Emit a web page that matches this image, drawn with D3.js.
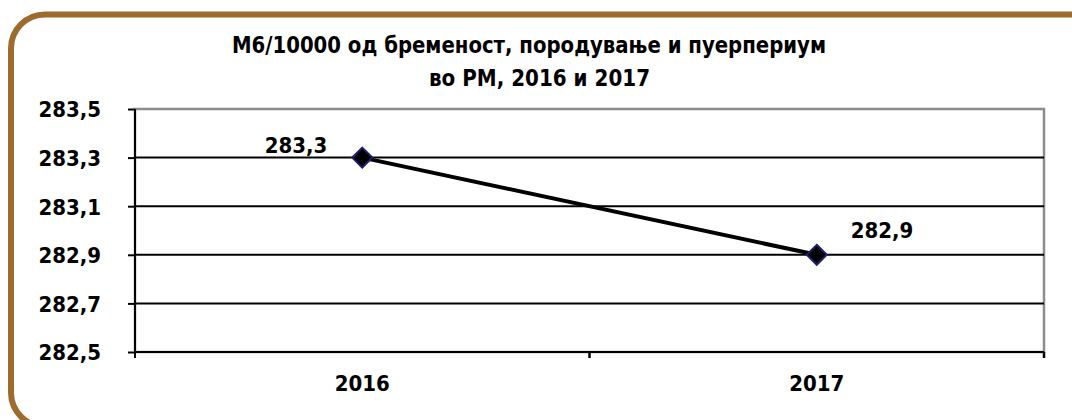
<!DOCTYPE html>
<html>
 <head>
  <meta charset="UTF-8">
  <title>M6/10000</title>
  <style>
    body { margin: 0; background: #fff; }
    text { font-family: "DejaVu Sans Condensed", "DejaVu Sans", sans-serif; font-weight: bold; fill: #000; }
  </style>
 </head>
 <body>
<div id="viz-wrapper"></div>
 <script src="https://cdn.jsdelivr.net/npm/d3@7"></script>
 <script type="text/javascript">
    // chart data
    var years = ["2016", "2017"];
    var values = [283.3, 282.9];
    var yTicks = [282.5, 282.7, 282.9, 283.1, 283.3, 283.5];
    var titleLines = ["М6/10000 од бременост, породување и пуерпериум", "во РМ, 2016 и 2017"];

    var width = 1072, height = 420;
    var pLeft = 135, pRight = 1044, pTop = 109, pBottom = 352;
    var font = '"DejaVu Sans Condensed", "DejaVu Sans", sans-serif';

    var fmt = function(v) { return d3.format(".1f")(v).replace(".", ","); };

    var svg = d3.select("#viz-wrapper")
                .append("svg")
                .attr("width", width)
                .attr("height", height);

    // brown rounded frame
    svg.append("rect")
       .attr("x", 11).attr("y", 14.5)
       .attr("width", 1100).attr("height", 412)
       .attr("rx", 34)
       .style("fill", "none")
       .style("stroke", "#9c6b2d")
       .style("stroke-width", 6);

    // title
    var tl = [[53, 594], [86, 221]];
    svg.selectAll(".title")
       .data(titleLines)
       .enter().append("text")
       .attr("class", "title")
       .attr("x", function(d, i) { return i === 0 ? 232 : 429; })
       .attr("y", function(d, i) { return tl[i][0]; })
       .attr("textLength", function(d, i) { return tl[i][1]; })
       .attr("lengthAdjust", "spacingAndGlyphs")
       .style("font-size", "23px")
       .text(function(d) { return d; });

    var x = d3.scaleBand().domain(years).range([pLeft, pRight]);
    var y = d3.scaleLinear().domain([282.5, 283.5]).range([pBottom, pTop]);

    // plot area border (grey)
    svg.append("rect")
       .attr("x", pLeft).attr("y", pTop)
       .attr("width", pRight - pLeft).attr("height", pBottom - pTop)
       .style("fill", "none")
       .style("stroke", "#8c8c8c")
       .style("stroke-width", 2.5);

    // gridlines
    svg.append("g")
       .selectAll("line")
       .data(yTicks.slice(0, 5))
       .enter().append("line")
       .attr("x1", pLeft).attr("x2", pRight)
       .attr("y1", function(d) { return y(d); })
       .attr("y2", function(d) { return y(d); })
       .style("stroke", "#000")
       .style("stroke-width", 2);

    // y axis
    var yAxis = svg.append("g")
       .attr("transform", "translate(" + pLeft + ",0)")
       .call(d3.axisLeft(y).tickValues(yTicks).tickSize(7).tickPadding(27).tickFormat(fmt));
    yAxis.select(".domain").remove();
    yAxis.selectAll("line").style("stroke", "#000").style("stroke-width", 2);
    yAxis.selectAll("text")
         .style("font-size", "22px")
         .style("font-family", font)
         .attr("dy", "0.36em");
    yAxis.append("line")
         .attr("x1", 0).attr("x2", 0)
         .attr("y1", pTop).attr("y2", pBottom + 6)
         .style("stroke", "#000").style("stroke-width", 2);

    // x axis
    var xAxis = svg.append("g")
       .attr("transform", "translate(0," + pBottom + ")")
       .call(d3.axisBottom(x).tickSize(0).tickPadding(23));
    xAxis.select(".domain").remove();
    xAxis.append("line")
         .attr("x1", pLeft).attr("x2", pRight)
         .style("stroke", "#000").style("stroke-width", 2);
    xAxis.selectAll(".sep")
         .data([x.step() + pLeft, pRight])
         .enter().append("line")
         .attr("x1", function(d) { return d; })
         .attr("x2", function(d) { return d; })
         .attr("y1", 0).attr("y2", 6)
         .style("stroke", "#000").style("stroke-width", 2.5);
    xAxis.selectAll("text")
         .style("font-size", "22px")
         .style("font-family", font)
         .attr("dy", "0.71em");

    // line
    var line = d3.line()
                 .x(function(d, i) { return x(years[i]) + x.bandwidth() / 2; })
                 .y(function(d) { return y(d); });
    svg.append("path")
       .datum(values)
       .attr("d", line)
       .style("fill", "none")
       .style("stroke", "#000")
       .style("stroke-width", 4);

    // diamond markers
    svg.selectAll(".marker")
       .data(values)
       .enter().append("path")
       .attr("class", "marker")
       .attr("d", "M0,-10L10,0L0,10L-10,0Z")
       .attr("transform", function(d, i) {
           return "translate(" + (x(years[i]) + x.bandwidth() / 2) + "," + y(d) + ")";
       })
       .style("fill", "#000")
       .style("stroke", "#1f1f6b")
       .style("stroke-width", 2);

    // data labels
    var off = [[-35, -5, "end"], [34, -17, "start"]];
    svg.selectAll(".lbl")
       .data(values)
       .enter().append("text")
       .attr("class", "lbl")
       .attr("x", function(d, i) { return x(years[i]) + x.bandwidth() / 2 + off[i][0]; })
       .attr("y", function(d, i) { return y(d) + off[i][1]; })
       .attr("text-anchor", function(d, i) { return off[i][2]; })
       .style("font-size", "22px")
       .text(fmt);
 </script>
 </body>
</html>
